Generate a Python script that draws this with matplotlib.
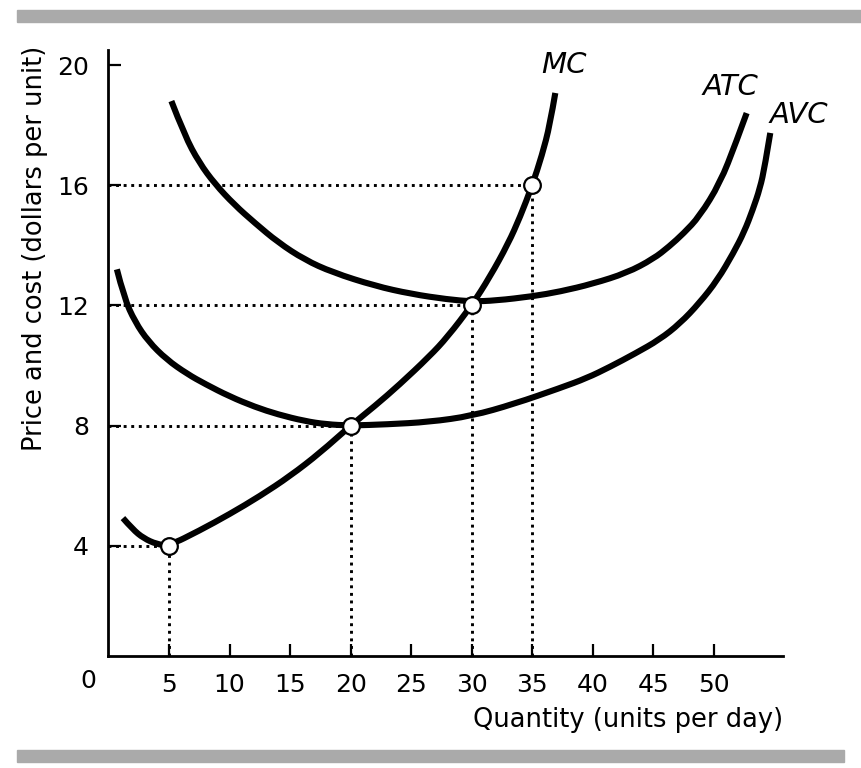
import matplotlib
matplotlib.use("Agg")
import matplotlib.pyplot as plt
from matplotlib.patches import Rectangle, PathPatch
from matplotlib.path import Path

plt.rcParams['font.family'] = ['DejaVu Sans']

# ---- data ----
mc_q = [1.2, 2.0, 2.9, 4.0, 5.0, 7.5, 10.0, 12.5, 15.0, 17.5, 20.0, 22.0, 24.0, 26.5, 28.0, 30.0, 31.5, 33.0, 34.0, 35.0, 35.8, 36.45, 36.9]
mc_p = [4.92, 4.55, 4.25, 4.05, 4.0, 4.5, 5.05, 5.65, 6.32, 7.1, 8.0, 8.65, 9.35, 10.3, 10.95, 12.0, 12.95, 14.05, 14.95, 16.0, 17.0, 18.0, 19.07]

atc_q = [5.2, 6.3, 7.5, 8.8, 10.4, 12.1, 14.0, 16.2, 18.5, 22.0, 25.0, 28.0, 30.0, 32.0, 35.0, 37.3, 40.0, 42.8, 45.0, 46.3, 47.5, 48.8, 50.5, 51.8, 52.7]
atc_p = [18.8, 17.65, 16.75, 16.04, 15.35, 14.74, 14.1, 13.52, 13.1, 12.65, 12.38, 12.2, 12.13, 12.16, 12.3, 12.46, 12.72, 13.08, 13.55, 13.96, 14.4, 14.96, 16.07, 17.4, 18.4]

avc_q = [0.7, 1.3, 2.2, 3.3, 4.8, 6.5, 8.0, 10.0, 12.1, 14.0, 16.2, 18.0, 20.0, 23.0, 26.5, 30.0, 33.5, 37.3, 39.5, 41.4, 43.5, 45.5, 47.2, 48.8, 50.3, 51.6, 52.5, 53.2, 53.8, 54.2, 54.65]
avc_p = [13.2, 12.25, 11.45, 10.8, 10.2, 9.72, 9.38, 8.97, 8.62, 8.37, 8.15, 8.04, 8.0, 8.04, 8.12, 8.32, 8.72, 9.25, 9.58, 9.95, 10.4, 10.86, 11.4, 12.08, 12.85, 13.74, 14.45, 15.18, 15.9, 16.63, 17.74]

# points where MC crosses something
pt_q = [5, 20, 30, 35]
pt_p = [4, 8, 12, 16]

xticks = [5, 10, 15, 20, 25, 30, 35, 40, 45, 50]
yticks = [4, 8, 12, 16, 20]

labels = ["MC", "ATC", "AVC"]
label_q = [37.6, 51.4, 57.0]
label_p = [20.0, 19.28, 18.35]

# ---- figure ----
fig = plt.figure(figsize=(8.62, 7.68), dpi=100)
W, H = 862, 768

# grey bars
fig.patches.append(Rectangle((17 / W, 1 - 21.5 / H), (862 - 17) / W, 11.5 / H,
                             transform=fig.transFigure, color="#aaaaaa", zorder=0))
fig.patches.append(Rectangle((17 / W, 1 - 762 / H), (844 - 17) / W, 12 / H,
                             transform=fig.transFigure, color="#aaaaaa", zorder=0))

ax = fig.add_axes([108.4 / W, (768 - 656) / H, (783 - 108.4) / W, (656 - 50) / H])
ax.set_xlim(0, 55.7)
ax.set_ylim(0.33, 20.5)

for s in ["top", "right"]:
    ax.spines[s].set_visible(False)
for s in ["left", "bottom"]:
    ax.spines[s].set_linewidth(2.0)

ax.set_xticks(xticks)
ax.set_yticks(yticks)
ax.tick_params(axis="both", direction="in", length=9, width=1.6, labelsize=18, colors="black")
ax.tick_params(axis="x", pad=12)
ax.tick_params(axis="y", pad=14)

# dotted guide lines
for q, p in zip(pt_q, pt_p):
    ax.plot([0, q], [p, p], color="black", lw=2.1, linestyle=(0, (1, 1.6)), zorder=2)
    ax.plot([q, q], [0.33, p], color="black", lw=2.1, linestyle=(0, (1, 1.6)), zorder=2)


def smooth_path(qs, ps):
    """Quadratic Bezier path using the read points as controls."""
    pts = list(zip(qs, ps))
    verts = [pts[0]]
    codes = [Path.MOVETO]
    for i in range(1, len(pts) - 1):
        mid = ((pts[i][0] + pts[i + 1][0]) / 2, (pts[i][1] + pts[i + 1][1]) / 2)
        if i == len(pts) - 2:
            mid = pts[-1]
        verts += [pts[i], mid]
        codes += [Path.CURVE3, Path.CURVE3]
    return Path(verts, codes)


for qq, pp in [(mc_q, mc_p), (atc_q, atc_p), (avc_q, avc_p)]:
    patch = PathPatch(smooth_path(qq, pp), facecolor="none", edgecolor="black", lw=4.4,
                      capstyle="butt", joinstyle="round", zorder=3)
    ax.add_patch(patch)

ax.plot(pt_q, pt_p, linestyle="none", marker="o", markersize=12, markerfacecolor="white",
        markeredgecolor="black", markeredgewidth=1.6, zorder=4)

for t, q, p in zip(labels, label_q, label_p):
    ax.text(q, p, t, fontsize=21, fontstyle="italic", ha="center", va="center", clip_on=False)

fig.text(88 / W, 1 - 681 / H, "0", fontsize=18, ha="center", va="center")
fig.text(783 / W, 1 - 720 / H, "Quantity (units per day)", fontsize=18.5, ha="right", va="center")
fig.text(35 / W, 1 - 248 / H, "Price and cost (dollars per unit)", fontsize=18.5,
         rotation=90, ha="center", va="center")

fig.savefig("out.png", dpi=100)
